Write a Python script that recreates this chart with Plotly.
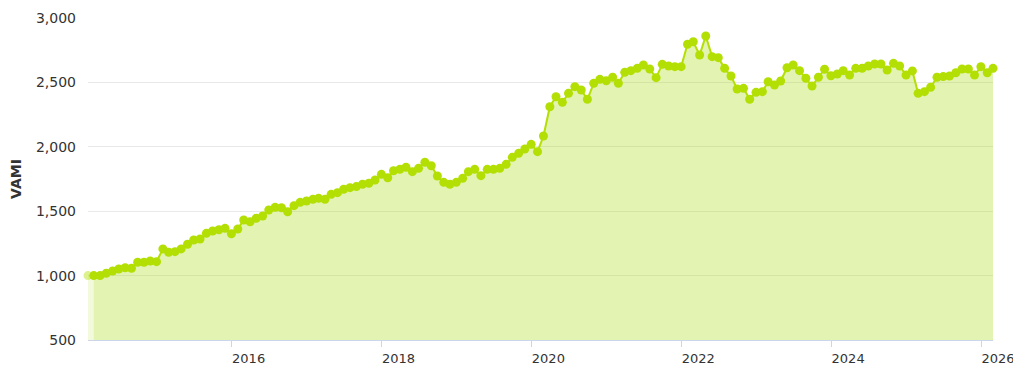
import pandas as pd
import plotly.graph_objects as go

# Month-end dates: inception month followed by the monthly track record
months = pd.date_range("2014-01-31", "2026-02-28", freq="ME")

vami = [
    1000,
    # 2014 (Feb-Dec)
    1000, 1000, 1018, 1036, 1051, 1061, 1057, 1104, 1104, 1113, 1108,
    # 2015
    1207, 1181, 1186, 1207, 1243, 1276, 1284, 1328, 1346, 1356, 1367, 1325,
    # 2016
    1362, 1432, 1418, 1445, 1463, 1509, 1530, 1527, 1496, 1543, 1569, 1579,
    # 2017
    1592, 1600, 1592, 1631, 1644, 1670, 1683, 1691, 1709, 1717, 1742, 1786,
    # 2018
    1760, 1814, 1825, 1841, 1807, 1833, 1880, 1853, 1773, 1724, 1709, 1724,
    # 2019
    1755, 1807, 1825, 1776, 1825, 1825, 1833, 1864, 1918, 1949, 1983, 2019,
    # 2020
    1962, 2084, 2311, 2389, 2345, 2415, 2467, 2441, 2369, 2493, 2524, 2513,
    # 2021
    2540, 2493, 2578, 2591, 2609, 2635, 2604, 2537, 2640, 2627, 2622, 2622,
    # 2022
    2796, 2816, 2713, 2860, 2700, 2692, 2609, 2550, 2449, 2454, 2369, 2423,
    # 2023
    2428, 2505, 2480, 2511, 2614, 2635, 2591, 2532, 2472, 2540, 2602, 2552,
    # 2024
    2565, 2591, 2557, 2609, 2609, 2627, 2643, 2643, 2596, 2648, 2627, 2557,
    # 2025
    2589, 2415, 2428, 2462, 2540, 2545, 2550, 2575, 2604, 2604, 2557, 2622,
    # 2026 (Jan-Feb)
    2575, 2609,
]

year_ticks = ["2016", "2018", "2020", "2022", "2024", "2026"]

LIME = "#b3df04"
FONT = "DejaVu Sans"

fig = go.Figure()

# Inception segment, drawn fainter
fig.add_trace(go.Scatter(
    x=months[:2], y=vami[:2],
    mode="markers",
    fill="tozeroy",
    fillcolor="rgba(180,225,40,0.16)",
    line=dict(width=0, color="rgba(0,0,0,0)"),
    marker=dict(size=9, color=["rgba(179,223,4,0.45)", "rgba(0,0,0,0)"]),
    cliponaxis=False,
    hoverinfo="skip",
    showlegend=False,
))

# Main VAMI series
fig.add_trace(go.Scatter(
    x=months[1:], y=vami[1:],
    mode="lines+markers",
    fill="tozeroy",
    fillcolor="rgba(170,220,20,0.33)",
    line=dict(width=2, color=LIME),
    marker=dict(size=9, color=LIME),
    cliponaxis=False,
    showlegend=False,
))

fig.update_layout(
    width=1013, height=367,
    margin=dict(l=88, r=20, t=18, b=27),
    paper_bgcolor="white",
    plot_bgcolor="white",
    font=dict(family=FONT, size=13, color="#333333"),
)

fig.update_xaxes(
    type="date",
    range=[months[0], months[-1]],
    tickvals=[f"{y}-01-01" for y in year_ticks],
    ticktext=year_ticks,
    ticks="outside", ticklen=6, tickcolor="#ccd6eb", tickwidth=1,
    ticklabelshift=17,
    ticklabeloverflow="allow",
    automargin=False,
    showline=True, linecolor="#ccd6eb", linewidth=1,
    showgrid=False, zeroline=False,
    tickfont=dict(family=FONT, size=13, color="#333333"),
)

fig.update_yaxes(
    range=[500, 3000],
    dtick=500,
    tickformat=",",
    automargin=False,
    showgrid=True, gridcolor="#e9e9e9", gridwidth=1,
    zeroline=False, showline=False,
    ticks="", ticklabelstandoff=11,
    tickfont=dict(family=FONT, size=14, color="#333333"),
    title=dict(text="<b>VAMI</b>", font=dict(family=FONT, size=14, color="#333333"), standoff=11),
)

fig.write_html("out.html")
